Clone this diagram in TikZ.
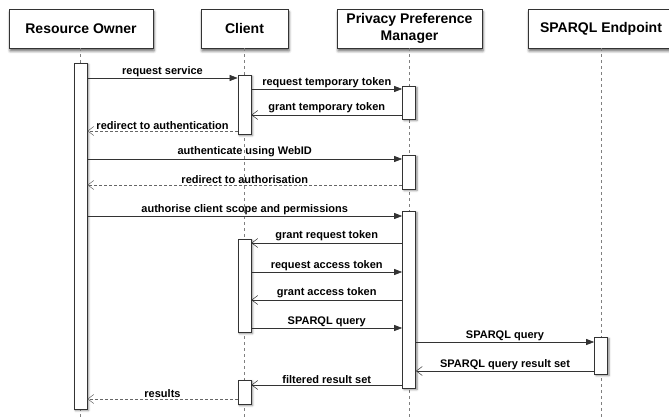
\documentclass[tikz,border=0pt]{standalone}
\usepackage{fontspec}
\setmainfont{Liberation Sans}
\usetikzlibrary{arrows.meta,shadows.blur}
\begin{document}
\begin{tikzpicture}[x=1pt,y=-1pt,
  header/.style={draw=black!80, line width=0.8pt, fill=white,
    minimum height=39pt, inner sep=0pt, align=center,
    font=\bfseries\fontsize{14}{17}\selectfont,
    blur shadow={shadow xshift=1pt, shadow yshift=-3pt,
      shadow blur radius=2.5pt, shadow opacity=60}},
  lifeline/.style={draw=black!50, line width=0.5pt, dash pattern=on 3pt off 3pt},
  bar/.style={draw=black!80, line width=0.7pt, fill=white,
    minimum width=13pt, inner sep=0pt,
    blur shadow={shadow xshift=1.5pt, shadow yshift=-1.5pt,
      shadow blur radius=2pt, shadow opacity=50}},
  msg/.style={draw=black!80, line width=0.6pt},
  call/.style={msg, -{Triangle[length=8pt,width=6pt]}},
  reply/.style={msg, -{Straight Barb[length=6pt,width=9pt,line width=0.5pt]}},
  ret/.style={reply, draw=black!60, dash pattern=on 3pt off 2pt},
  lbl/.style={font=\bfseries\fontsize{11}{13}\selectfont, above, inner sep=1.4pt}
]
\useasboundingbox (0,0) rectangle (669,417);

% participants
\node[header, minimum width=144pt] (hro) at (81,28.5) {Resource Owner};
\node[header, minimum width=87pt] (hcl) at (244.5,28.5) {Client};
\node[header, minimum width=145pt] (hpm) at (409.5,28.5) {Privacy Preference\\Manager};
\node[header, minimum width=146pt] (hsp) at (601,28.5) {SPARQL Endpoint};

% lifelines
\coordinate (endro) at (80.5,417);
\coordinate (endcl) at (244.5,417);
\coordinate (endpm) at (409,417);
\coordinate (endsp) at (601,417);
\draw[lifeline] (hro.south -| endro) -- (endro);
\draw[lifeline] (hcl.south -| endcl) -- (endcl);
\draw[lifeline] (hpm.south -| endpm) -- (endpm);
\draw[lifeline] (hsp.south -| endsp) -- (endsp);

% activations
\node[bar, minimum height=346pt] (ro) at (80.5,236) {};
\node[bar, minimum height=59pt] (c1) at (244.5,104.5) {};
\node[bar, minimum height=33pt] (p1) at (409,102.5) {};
\node[bar, minimum height=34pt] (p2) at (409,172) {};
\node[bar, minimum height=177pt] (p3) at (409,299.5) {};
\node[bar, minimum height=93pt] (c2) at (244.5,285.5) {};
\node[bar, minimum height=37pt] (s1) at (601,355.5) {};
\node[bar, minimum height=24pt] (c3) at (244.5,392) {};

% messages
\draw[call] (ro.east |- 0,78) -- node[lbl]{request service} (c1.west |- 0,78);
\draw[call] (c1.east |- 0,89) -- node[lbl]{request temporary token} (p1.west |- 0,89);
\draw[reply] (p1.west |- 0,115) -- node[lbl]{grant temporary token} (c1.east |- 0,115);
\draw[ret] (c1.west |- 0,131) -- node[lbl]{redirect to authentication} (ro.east |- 0,131);
\draw[call] (ro.east |- 0,159) -- node[lbl]{authenticate using WebID} (p2.west |- 0,159);
\draw[ret] (p2.west |- 0,185) -- node[lbl]{redirect to authorisation} (ro.east |- 0,185);
\draw[call] (ro.east |- 0,216) -- node[lbl]{authorise client scope and permissions} (p3.west |- 0,216);
\draw[reply] (p3.west |- 0,243) -- node[lbl]{grant request token} (c2.east |- 0,243);
\draw[call] (c2.east |- 0,272) -- node[lbl]{request access token} (p3.west |- 0,272);
\draw[reply] (p3.west |- 0,300) -- node[lbl]{grant access token} (c2.east |- 0,300);
\draw[call] (c2.east |- 0,328) -- node[lbl]{SPARQL query} (p3.west |- 0,328);
\draw[call] (p3.east |- 0,342) -- node[lbl]{SPARQL query} (s1.west |- 0,342);
\draw[reply] (s1.west |- 0,371) -- node[lbl]{SPARQL query result set} (p3.east |- 0,371);
\draw[reply] (p3.west |- 0,385) -- node[lbl]{filtered result set} (c3.east |- 0,385);
\draw[ret] (c3.west |- 0,399) -- node[lbl]{results} (ro.east |- 0,399);
\end{tikzpicture}
\end{document}
